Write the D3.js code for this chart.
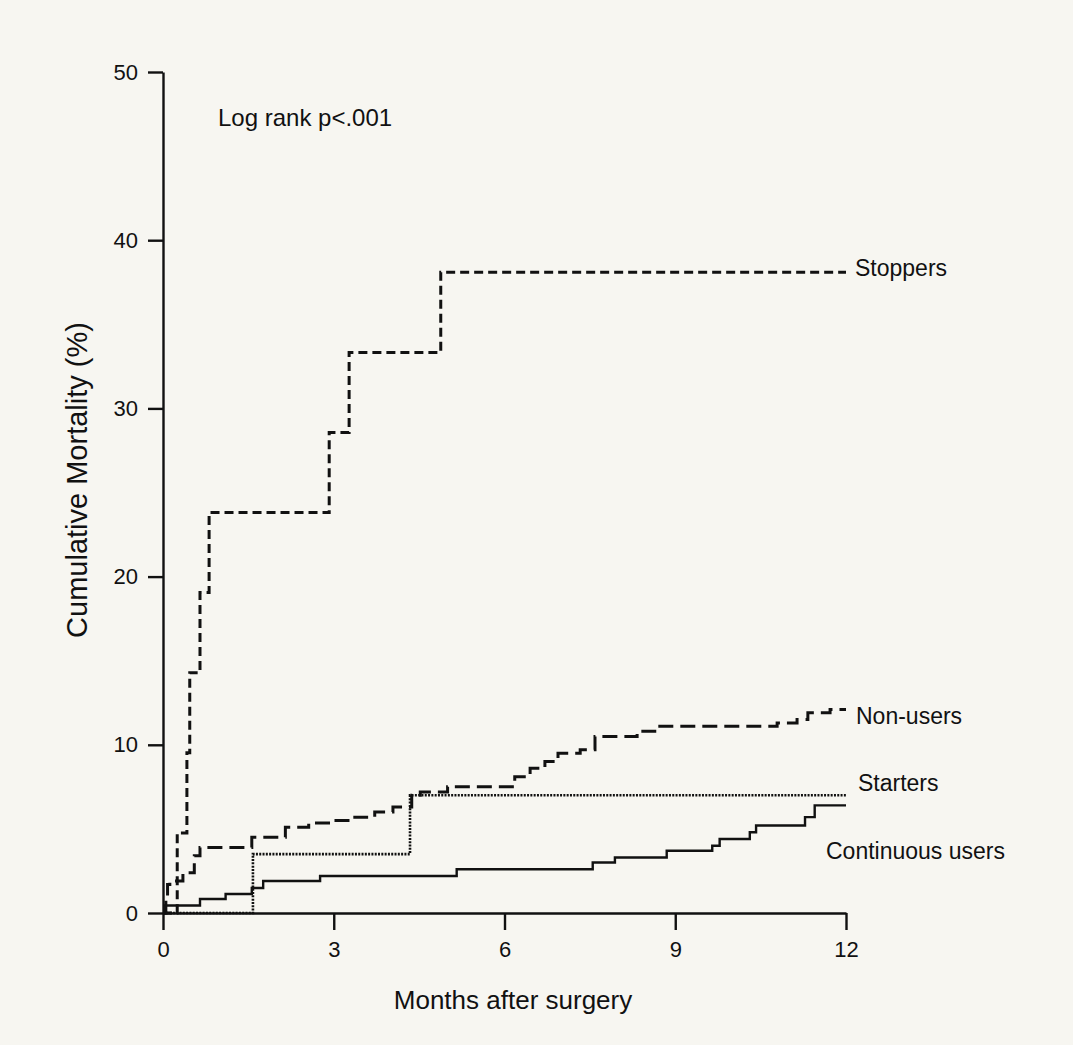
<!DOCTYPE html>
<html><head><meta charset="utf-8">
<script src="https://cdn.jsdelivr.net/npm/d3@7"></script>
<style>html,body{margin:0;padding:0;background:#f7f6f1;}svg{display:block;font-family:"Liberation Sans",Arial,sans-serif;}</style>
</head><body><svg id="c" width="1073" height="1045"></svg>
<script>
const xTicks = [0, 3, 6, 9, 12];
const yTicks = [0, 10, 20, 30, 40, 50];

const stoppersT = [0, 0.25, 0.42, 0.47, 0.65, 0.81, 2.92, 3.27, 4.88, 12];
const stoppersV = [0, 4.76, 9.52, 14.29, 19.05, 23.81, 28.57, 33.33, 38.1, 38.1];

const nonUsersT = [0, 0.05, 0.08, 0.12, 0.35, 0.55, 0.65, 1.56, 2.15, 2.56, 2.99, 3.37, 3.72, 4.04, 4.37, 4.52, 5.0, 6.18, 6.45, 6.71, 6.94, 7.33, 7.59, 8.33, 8.64, 10.79, 11.14, 11.33, 11.72, 12];
const nonUsersV = [0, 0.8, 1.7, 1.9, 2.4, 3.4, 3.9, 4.5, 5.1, 5.35, 5.5, 5.7, 6.0, 6.3, 7.0, 7.2, 7.5, 8.1, 8.6, 9.0, 9.5, 9.7, 10.5, 10.8, 11.1, 11.3, 11.5, 11.9, 12.1, 12.1];

const startersT = [0, 1.58, 4.34, 12];
const startersV = [0, 3.5, 7.0, 7.0];

const continuousT = [0, 0.03, 0.65, 1.1, 1.56, 1.76, 2.76, 5.16, 7.55, 7.94, 8.85, 9.65, 9.78, 10.31, 10.42, 11.28, 11.45, 12];
const continuousV = [0, 0.45, 0.83, 1.13, 1.49, 1.9, 2.2, 2.6, 3.0, 3.3, 3.7, 4.0, 4.4, 4.8, 5.2, 5.7, 6.4, 6.4];

const seriesNames = ["Stoppers", "Non-users", "Starters", "Continuous users"];

const svg = d3.select("#c");
const x = d3.scaleLinear().domain([0, 12]).range([163, 846]);
const y = d3.scaleLinear().domain([0, 50]).range([913, 72]);

const series = [
  {name: seriesNames[0], t: stoppersT, v: stoppersV, dash: "9,5", w: 3, lx: 855, ly: 268},
  {name: seriesNames[1], t: nonUsersT, v: nonUsersV, dash: "15,7", w: 3, lx: 856, ly: 716},
  {name: seriesNames[2], t: startersT, v: startersV, dash: "2,1.3", w: 2.6, lx: 858, ly: 783},
  {name: seriesNames[3], t: continuousT, v: continuousV, dash: null, w: 2.4, lx: 826, ly: 851}
];

// axes
const yAxis = d3.axisLeft(y).tickValues(yTicks).tickSize(15).tickSizeOuter(0).tickPadding(10);
const xAxis = d3.axisBottom(x).tickValues(xTicks).tickSize(17).tickSizeOuter(0).tickPadding(11);

const gy = svg.append("g").attr("transform", `translate(${x(0)},0)`).call(yAxis);
const gx = svg.append("g").attr("transform", `translate(0,${y(0)})`).call(xAxis);
[gx, gy].forEach(g => {
  g.select(".domain").attr("stroke", "#111").attr("stroke-width", 2.4);
  g.selectAll(".tick line").attr("stroke", "#111").attr("stroke-width", 2.4);
  g.selectAll(".tick text").attr("fill", "#111").style("font-size", "22px").style("font-family", '"Liberation Sans",Arial,sans-serif');
});

const line = d3.line().x(d => x(d[0])).y(d => y(d[1])).curve(d3.curveStepAfter);

series.forEach(s => {
  const pts = s.t.map((t, i) => [t, s.v[i]]);
  svg.append("path").datum(pts)
    .attr("d", line)
    .attr("fill", "none")
    .attr("stroke", "#111")
    .attr("stroke-width", s.w)
    .attr("stroke-dasharray", s.dash);
  svg.append("text").attr("x", s.lx).attr("y", s.ly).attr("dy", "0.35em")
    .attr("fill", "#111").style("font-size", "23px").text(s.name);
});

svg.append("text").attr("x", 218).attr("y", 118).attr("dy", "0.35em")
  .attr("fill", "#111").style("font-size", "24px").text("Log rank p<.001");

svg.append("text").attr("transform", "translate(77,480) rotate(-90)")
  .attr("text-anchor", "middle").attr("dy", "0.35em")
  .attr("fill", "#111").style("font-size", "29px").text("Cumulative Mortality (%)");

svg.append("text").attr("x", 513).attr("y", 1000).attr("text-anchor", "middle").attr("dy", "0.35em")
  .attr("fill", "#111").style("font-size", "26px").text("Months after surgery");
</script></body></html>
